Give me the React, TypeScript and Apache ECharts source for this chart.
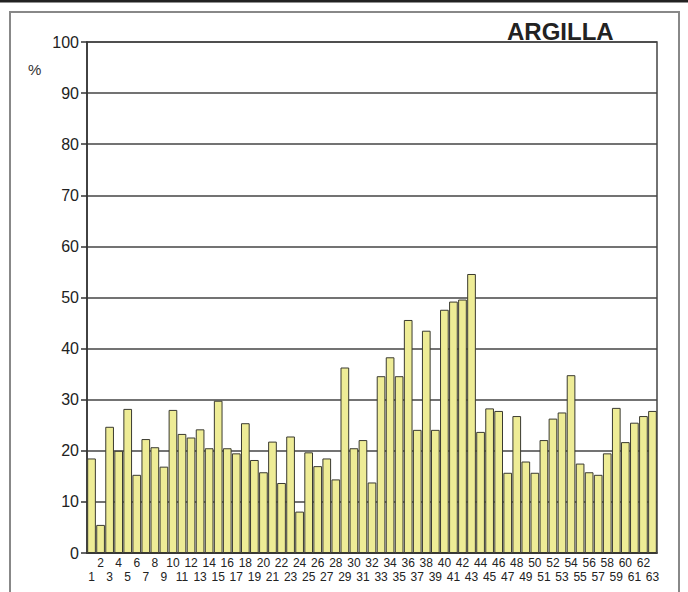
import React, { useEffect, useRef } from "react";
import * as echarts from "echarts";

const categories: string[] = Array.from({ length: 63 }, (_, i) => String(i + 1));

const argilla: number[] = [
  18.5, 5.5, 24.7, 20, 28.2, 15.3, 22.3, 20.7, 16.9, 28,
  23.3, 22.6, 24.2, 20.5, 29.8, 20.5, 19.5, 25.4, 18.2, 15.8,
  21.8, 13.7, 22.8, 8.1, 19.7, 17, 18.5, 14.4, 36.3, 20.5,
  22.1, 13.8, 34.6, 38.3, 34.6, 45.6, 24.1, 43.5, 24.1, 47.6,
  49.2, 49.6, 54.6, 23.7, 28.3, 27.8, 15.7, 26.8, 17.9, 15.7,
  22.1, 26.3, 27.5, 34.8, 17.5, 15.8, 15.3, 19.5, 28.4, 21.7,
  25.5, 26.8, 27.8,
];

const yTicks = { min: 0, max: 100, interval: 10 };

export default function App() {
  const ref = useRef<HTMLDivElement>(null);
  useEffect(() => {
    if (!ref.current) return;
    const chart = echarts.init(ref.current, undefined, { renderer: "svg" });
    const font = "Arial, 'Liberation Sans', sans-serif";
    chart.setOption({
      animation: false,
      backgroundColor: "#ffffff",
      grid: { left: 87, right: 31, top: 42, bottom: 39, show: true, borderColor: "#444", borderWidth: 1.5, backgroundColor: "transparent" },
      xAxis: {
        type: "category",
        data: categories,
        axisLine: { lineStyle: { color: "#333", width: 1.5 } },
        axisTick: { show: false },
        axisLabel: {
          interval: 0,
          margin: 3,
          fontSize: 12,
          lineHeight: 14,
          color: "#222",
          fontFamily: font,
          formatter: (v: string, i: number) => (i % 2 === 0 ? "\n" + v : v),
        },
      },
      yAxis: {
        type: "value",
        min: yTicks.min,
        max: yTicks.max,
        interval: yTicks.interval,
        axisLine: { show: true, lineStyle: { color: "#333", width: 1.5 } },
        axisTick: { show: true, inside: false, length: 6, lineStyle: { color: "#333", width: 1.5 } },
        axisLabel: { fontSize: 16, color: "#222", margin: 8, fontFamily: font },
        splitLine: { show: true, lineStyle: { color: "#444", width: 1.5 } },
      },
      series: [
        {
          type: "bar",
          data: argilla,
          barCategoryGap: "4%",
          itemStyle: { color: "#eeec96", borderColor: "#3a3a30", borderWidth: 1 },
        },
      ],
      graphic: [
        { type: "line", shape: { x1: 0, y1: 1, x2: 688, y2: 1 }, style: { stroke: "#222", lineWidth: 3 } },
        { type: "rect", shape: { x: 10, y: 12, width: 669, height: 600 }, style: { fill: "none", stroke: "#888", lineWidth: 2 } },
        { type: "text", left: 507, top: 19, style: { text: "ARGILLA", fontSize: 24, fontWeight: "bold", fill: "#222", fontFamily: font } },
        { type: "text", left: 28, top: 62, style: { text: "%", fontSize: 15, fill: "#333", fontFamily: font } },
      ],
    });
    return () => chart.dispose();
  }, []);
  return <div ref={ref} style={{ position: "fixed", left: 0, top: 0, width: 688, height: 592 }} />;
}
